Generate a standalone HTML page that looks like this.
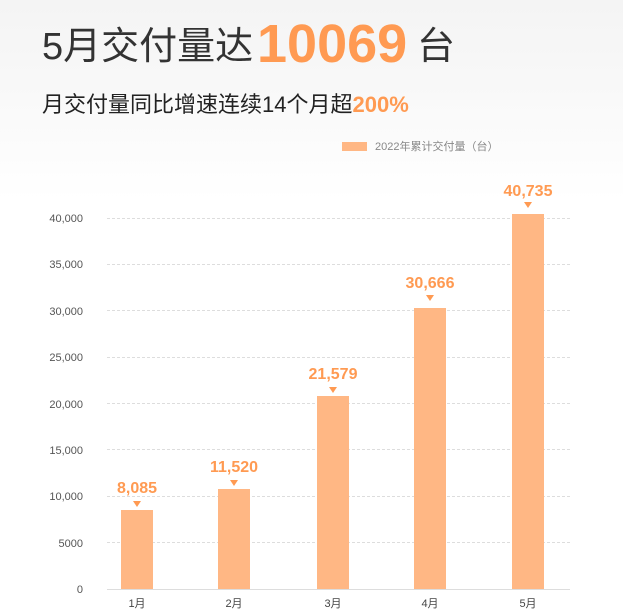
<!DOCTYPE html>
<html><head><meta charset="utf-8"><style>
html,body{margin:0;padding:0;}
body{width:623px;height:616px;overflow:hidden;background:linear-gradient(#f4f4f4 0px,#fafafa 120px,#ffffff 200px);font-family:"Liberation Sans","Noto Sans CJK SC",sans-serif;}
</style></head><body>
<svg width="623" height="616" xmlns="http://www.w3.org/2000/svg" style="position:absolute;left:0;top:0">
<g font-family="Liberation Sans, Noto Sans CJK SC, sans-serif">
<text x="42" y="59" font-size="38" fill="#333">5月交付量达</text>
<text x="257" y="62" font-size="54" font-weight="bold" fill="#ff9a52">10069</text>
<text x="417" y="59" font-size="38" fill="#333">台</text>
<text x="42" y="112" font-size="22" fill="#222">月交付量同比增速连续14个月超<tspan fill="#ff9a52" font-weight="bold">200%</tspan></text>
<rect x="342" y="142" width="25" height="9" fill="#ffb784"/>
<text x="375" y="150" font-size="11" fill="#888">2022年累计交付量（台）</text>
<g stroke="#ddd" stroke-dasharray="3,2" stroke-width="1">
<line x1="107" x2="570" y1="542.5" y2="542.5"/>
<line x1="107" x2="570" y1="496.5" y2="496.5"/>
<line x1="107" x2="570" y1="449.5" y2="449.5"/>
<line x1="107" x2="570" y1="403.5" y2="403.5"/>
<line x1="107" x2="570" y1="357.5" y2="357.5"/>
<line x1="107" x2="570" y1="310.5" y2="310.5"/>
<line x1="107" x2="570" y1="264.5" y2="264.5"/>
<line x1="107" x2="570" y1="218.5" y2="218.5"/>
</g>
<line x1="107" x2="570" y1="589.5" y2="589.5" stroke="#ddd"/>
<g font-size="11" fill="#555" text-anchor="end">
<text x="83" y="593">0</text>
<text x="83" y="547">5000</text>
<text x="83" y="500">10,000</text>
<text x="83" y="454">15,000</text>
<text x="83" y="408">20,000</text>
<text x="83" y="361">25,000</text>
<text x="83" y="315">30,000</text>
<text x="83" y="222">40,000</text>
<text x="83" y="268">35,000</text>
</g>
<g fill="#ffb784">
<rect x="121" y="510" width="32" height="79"/>
<rect x="218" y="489" width="32" height="100"/>
<rect x="317" y="396" width="32" height="193"/>
<rect x="414" y="308" width="32" height="281"/>
<rect x="512" y="214" width="32" height="375"/>
</g>
<g fill="#ff9a52">
<path d="M133,501h8l-4,6z"/><path d="M230,480h8l-4,6z"/><path d="M329,387h8l-4,6z"/><path d="M426,295h8l-4,6z"/><path d="M524,202h8l-4,6z"/>
</g>
<g font-size="16" font-weight="bold" fill="#ff9a52" text-anchor="middle">
<text x="137" y="493">8,085</text>
<text x="234" y="472">11,520</text>
<text x="333" y="379">21,579</text>
<text x="430" y="288">30,666</text>
<text x="528" y="196">40,735</text>
</g>
<g font-size="11" fill="#444" text-anchor="middle">
<text x="137" y="607">1月</text><text x="234" y="607">2月</text><text x="333" y="607">3月</text><text x="430" y="607">4月</text><text x="528" y="607">5月</text>
</g>
</g>
</svg>
</body></html>
